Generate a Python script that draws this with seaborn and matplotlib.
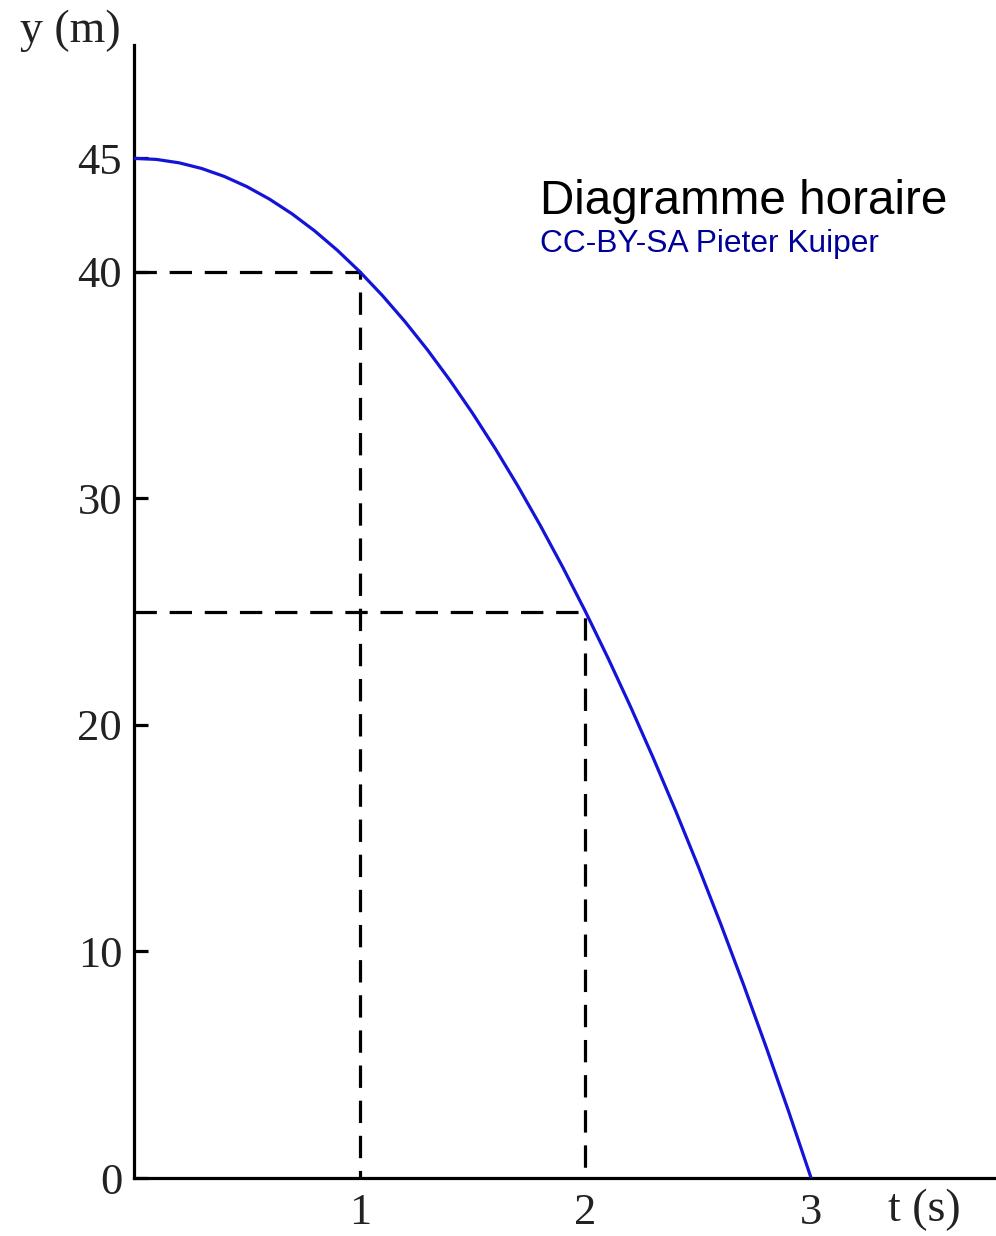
import matplotlib
matplotlib.use("Agg")
import matplotlib.pyplot as plt
import seaborn as sns
import pandas as pd

# Data
t_values = [0.0, 0.1, 0.2, 0.3, 0.4, 0.5, 0.6, 0.7, 0.8, 0.9, 1.0,
            1.1, 1.2, 1.3, 1.4, 1.5, 1.6, 1.7, 1.8, 1.9, 2.0,
            2.1, 2.2, 2.3, 2.4, 2.5, 2.6, 2.7, 2.8, 2.9, 3.0]
y_values = [45.0, 44.95, 44.8, 44.55, 44.2, 43.75, 43.2, 42.55, 41.8, 40.95, 40.0,
            38.95, 37.8, 36.55, 35.2, 33.75, 32.2, 30.55, 28.8, 26.95, 25.0,
            22.95, 20.8, 18.55, 16.2, 13.75, 11.2, 8.55, 5.8, 2.95, 0.0]
marked_t = [1, 2]
marked_y = [40, 25]
y_ticks = [0, 10, 20, 30, 40, 45]
x_ticks = [1, 2, 3]

sns.set_style("white")
serif = ["Liberation Serif", "DejaVu Serif"]
sans = ["Liberation Sans", "DejaVu Sans"]
text_color = "#222222"

fig = plt.figure(figsize=(9.96, 12.36), dpi=100)
ax = fig.add_axes([134 / 996, 58 / 1236, (994 - 134) / 996, (1178 - 45) / 1236])

df = pd.DataFrame({"t": t_values, "y": y_values})
sns.lineplot(data=df, x="t", y="y", ax=ax, color="#1414d8", linewidth=2.3, zorder=3)

for tm, ym in zip(marked_t, marked_y):
    ax.plot([0, tm, tm], [ym, ym, 0], color="black", linewidth=2.3,
            linestyle=(0, (7, 4)), zorder=2)

ax.set_xlim(0, (994 - 134) / 225.7)
ax.set_ylim(0, 50)

for s in ["top", "right"]:
    ax.spines[s].set_visible(False)
for s in ["left", "bottom"]:
    ax.spines[s].set_linewidth(2.3)
    ax.spines[s].set_color("black")

ax.set_yticks(y_ticks)
ax.set_yticklabels([str(v) for v in y_ticks])
ax.set_xticks(x_ticks)
ax.set_xticklabels([str(v) for v in x_ticks])
ax.tick_params(axis="y", left=True, direction="in", length=10, width=2.3, color="black",
               pad=8.5, labelsize=32, labelcolor=text_color)
ax.tick_params(axis="x", bottom=False, length=0, pad=11, labelsize=32, labelcolor=text_color)
for lab in ax.get_xticklabels() + ax.get_yticklabels():
    lab.set_family(serif)

ax.set_xlabel("")
ax.set_ylabel("")
ax.grid(False)

fig.text(70 / 996, 1 - 31 / 1236, "y (m)", fontsize=33, family=serif,
         color=text_color, ha="center", va="center")
fig.text(924 / 996, 1 - 1210 / 1236, "t (s)", fontsize=33, family=serif,
         color=text_color, ha="center", va="center")

fig.text(540 / 996, 1 - 201 / 1236, "Diagramme horaire", fontsize=34.3,
         family=sans, color="black", ha="left", va="center")
fig.text(540 / 996, 1 - 244 / 1236, "CC-BY-SA Pieter Kuiper", fontsize=22.9,
         family=sans, color="#000099", ha="left", va="center")

fig.savefig("out.png", dpi=100)
